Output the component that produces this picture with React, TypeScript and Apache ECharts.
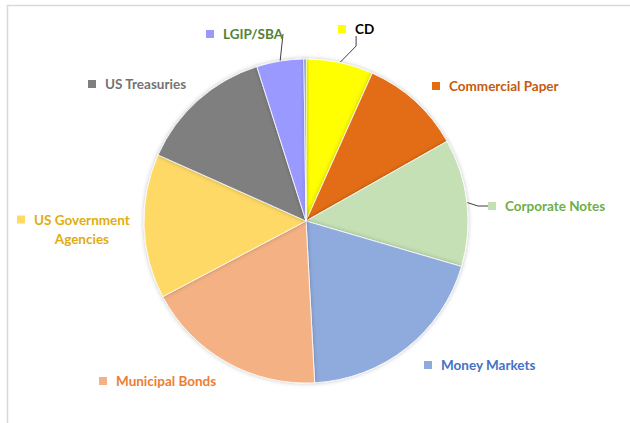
import React, { useEffect, useRef } from "react";
import * as echarts from "echarts";

const categories = [
  "CD",
  "Commercial Paper",
  "Corporate Notes",
  "Money Markets",
  "Municipal Bonds",
  "US Government Agencies",
  "US Treasuries",
  "LGIP/SBA",
  "Other",
];
const shares = [6.7, 10.1, 12.7, 19.6, 18.1, 14.4, 13.4, 4.7, 0.2];

const sliceColors = [
  "#FFFF00",
  "#E26D12",
  "#C5E0B4",
  "#8FAADC",
  "#F4B183",
  "#FFD966",
  "#7F7F7F",
  "#9999FF",
  "#4F81BD",
];
const labelColors = [
  "#000000",
  "#C55A11",
  "#70AD47",
  "#4472C4",
  "#ED7D31",
  "#E0AC10",
  "#737373",
  "#548235",
  "#000000",
];
const showLabel = [true, true, true, true, true, true, true, true, false];
const showLeader = [true, false, true, false, false, false, false, true, false];
// label anchor (left edge of marker, vertical middle)
const labelPos: (number[] | null)[] = [
  [338, 29],
  [432, 86],
  [488, 206],
  [424, 365],
  [99, 381],
  [17, 229],
  [88, 84],
  [206, 34],
  null,
];

function wrapName(name: string): string[] {
  if (name.length <= 18) return [name];
  const i = name.lastIndexOf(" ");
  return [name.slice(0, i), name.slice(i + 1)];
}

export default function App() {
  const ref = useRef<HTMLDivElement>(null);
  useEffect(() => {
    if (!ref.current) return;
    const chart = echarts.init(ref.current, undefined, { renderer: "svg" });
    const data = categories.map((name, i) => ({
      name,
      value: shares[i],
      itemStyle: { color: sliceColors[i] },
      label: {
        show: showLabel[i],
        rich: {
          m: { width: 8, height: 8, backgroundColor: sliceColors[i] },
          g: { width: 9, height: 8 },
          s: { width: 17, height: 8 },
          t: {
            color: labelColors[i],
            fontFamily: "Lato",
            fontWeight: "bold",
            fontSize: 13.5,
            lineHeight: 19,
          },
          c: {
            color: labelColors[i],
            fontFamily: "Lato",
            fontWeight: "bold",
            fontSize: 13.5,
            lineHeight: 19,
            align: "center",
          },
        },
      },
      labelLine: { show: showLeader[i] },
    }));

    chart.setOption({
      animation: false,
      backgroundColor: "#ffffff",
      graphic: [
        {
          type: "rect",
          left: 5,
          top: 3,
          shape: { width: 700, height: 500 },
          style: { fill: "none", stroke: "#D9D9D9", lineWidth: 1.5 },
          silent: true,
        },
      ],
      series: [
        {
          type: "pie",
          center: [306, 221],
          radius: 162,
          startAngle: 90,
          clockwise: true,
          avoidLabelOverlap: false,
          itemStyle: {
            borderColor: "#ffffff",
            borderWidth: 0.8,
            shadowBlur: 4,
            shadowColor: "rgba(0,0,0,0.25)",
          },
          emphasis: { disabled: true },
          label: {
            show: true,
            position: "outside",
            formatter: (p: any) => {
              const lines = wrapName(p.name);
              if (lines.length === 1) return `{m|}{g|}{t|${lines[0]}}`;
              return `{m|}{g|}{t|${lines[0]}}\n{s|}{c|${lines[1]}}`;
            },
          },
          labelLine: {
            show: true,
            length: 10,
            length2: 10,
            lineStyle: { color: "#404040", width: 1 },
          },
          labelLayout: (params: any) => {
            const p = labelPos[params.dataIndex];
            if (!p) return {};
            return { x: p[0], y: p[1], align: "left", verticalAlign: "middle" };
          },
          data,
        },
      ],
    });
    return () => chart.dispose();
  }, []);
  return (
    <div
      ref={ref}
      style={{ position: "absolute", left: 0, top: 0, width: 630, height: 423 }}
    />
  );
}
